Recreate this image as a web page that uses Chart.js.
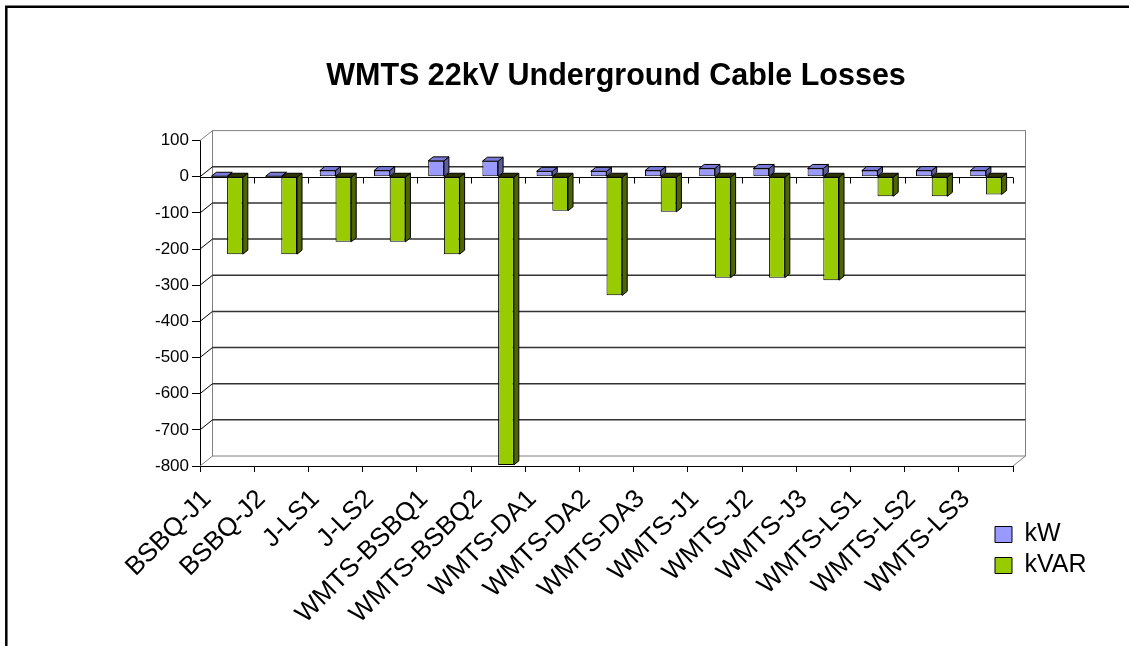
<!DOCTYPE html>
<html lang="en">
<head>
<meta charset="UTF-8">
<title>WMTS 22kV Underground Cable Losses</title>
<script src="https://cdn.jsdelivr.net/npm/chart.js"></script>
<style>
  html, body { margin: 0; padding: 0; background: #fff; overflow: hidden; }
</style>
</head>
<body>
<canvas id="lossChart" width="1129" height="646"></canvas>
<script>
// cable sections and their losses
const cables = [
  "BSBQ-J1", "BSBQ-J2", "J-LS1", "J-LS2", "WMTS-BSBQ1", "WMTS-BSBQ2",
  "WMTS-DA1", "WMTS-DA2", "WMTS-DA3", "WMTS-J1", "WMTS-J2", "WMTS-J3",
  "WMTS-LS1", "WMTS-LS2", "WMTS-LS3"
];
const kwLoss   = [1, 1, 17, 17, 44, 43, 15, 15, 17, 23, 23, 23, 17, 17, 17];
const kvarLoss = [-214, -214, -180, -180, -214, -797, -94, -328, -97, -279, -279, -286, -54, -54, -49];
const yMin = -800, yMax = 100, yStep = 100;

Chart.defaults.font.family = "'Liberation Sans', Arial, sans-serif";
Chart.defaults.color = "#000";

// 3D look: wall depth and bar depth
const WX = 12.5, WY = -10;
const BX = 5, BY = -4;

const faceColors = [
  { top: "#7b7bd6", side: "#5c5c99" },   // kW
  { top: "#2e3300", side: "#4d6600" }    // kVAR
];

const excel3d = {
  id: "excel3d",
  beforeDraw(chart) {
    const ctx = chart.ctx;
    ctx.save();
    ctx.strokeStyle = "#000";
    ctx.lineWidth = 2.5;
    ctx.beginPath();
    ctx.moveTo(6.3, 700);
    ctx.lineTo(6.3, 6.7);
    ctx.lineTo(1200, 6.7);
    ctx.stroke();
    ctx.restore();
  },
  afterLayout(chart) {
    // title centred over the 3D plot, legend moved to bottom right
    if (chart.titleBlock) {
      chart.titleBlock.left = 207;
      chart.titleBlock.right = 1025;
    }
    const lg = chart.legend;
    if (lg) {
      const w = lg.width, h = lg.height;
      lg.left = 989; lg.right = 989 + w;
      lg.top = 516; lg.bottom = 516 + h;
    }
  },
  beforeDatasetsDraw(chart) {
    const { ctx, chartArea: a, scales: { y } } = chart;
    ctx.save();
    ctx.lineWidth = 1;
    // back wall outline
    ctx.strokeStyle = "#808080";
    ctx.strokeRect(a.left + WX, a.top + WY, a.right - a.left, a.bottom - a.top);
    // floor / side wall edges
    ctx.beginPath();
    ctx.moveTo(a.left, a.bottom); ctx.lineTo(a.left + WX, a.bottom + WY);
    ctx.moveTo(a.right, a.bottom); ctx.lineTo(a.right + WX, a.bottom + WY);
    ctx.moveTo(a.left, a.top); ctx.lineTo(a.left + WX, a.top + WY);
    ctx.stroke();
    // gridlines on back wall + side wall
    y.ticks.forEach(t => {
      if (t.value === yMax || t.value === yMin) return;
      const py = y.getPixelForValue(t.value);
      ctx.strokeStyle = "#333";
      ctx.lineWidth = 1.5;
      ctx.beginPath();
      ctx.moveTo(a.left + WX, py + WY);
      ctx.lineTo(a.right + WX, py + WY);
      ctx.stroke();
      ctx.strokeStyle = "#000";
      ctx.lineWidth = 1;
      ctx.beginPath();
      ctx.moveTo(a.left, py);
      ctx.lineTo(a.left + WX, py + WY);
      ctx.stroke();
    });
    // category axis at zero with its tick marks
    const y0 = Math.round(y.getPixelForValue(0)) + 0.5;
    ctx.strokeStyle = "#000";
    ctx.lineWidth = 1;
    ctx.beginPath();
    ctx.moveTo(a.left, y0);
    ctx.lineTo(a.right, y0);
    const step = (a.right - a.left) / cables.length;
    for (let i = 0; i <= cables.length; i++) {
      const px = Math.round(a.left + i * step) + 0.5;
      ctx.moveTo(px, y0);
      ctx.lineTo(px, y0 + 6);
    }
    ctx.stroke();
    ctx.restore();
  },
  afterDatasetsDraw(chart) {
    // top and side faces, kW first so kVAR tops sit over them
    const ctx = chart.ctx;
    ctx.save();
    ctx.lineWidth = 1;
    ctx.strokeStyle = "#000";
    chart.data.datasets.forEach((ds, i) => {
      const fc = faceColors[i];
      chart.getDatasetMeta(i).data.forEach(bar => {
        const { x, y, base, width } = bar.getProps(["x", "y", "base", "width"], true);
        const l = x - width / 2, r = x + width / 2;
        const top = Math.min(y, base), bot = Math.max(y, base);
        ctx.fillStyle = fc.side;
        ctx.beginPath();
        ctx.moveTo(r, top);
        ctx.lineTo(r + BX, top + BY);
        ctx.lineTo(r + BX, bot + BY);
        ctx.lineTo(r, bot);
        ctx.closePath();
        ctx.fill();
        ctx.stroke();
        ctx.fillStyle = fc.top;
        ctx.beginPath();
        ctx.moveTo(l, top);
        ctx.lineTo(l + BX, top + BY);
        ctx.lineTo(r + BX, top + BY);
        ctx.lineTo(r, top);
        ctx.closePath();
        ctx.fill();
        ctx.stroke();
      });
    });
    ctx.restore();
  }
};

new Chart(document.getElementById("lossChart"), {
  type: "bar",
  data: {
    labels: cables,
    datasets: [
      {
        label: "kW",
        data: kwLoss,
        backgroundColor: "#9999ff",
        borderColor: "#000",
        borderWidth: 1,
        borderSkipped: false
      },
      {
        label: "kVAR",
        data: kvarLoss,
        backgroundColor: "#99cc00",
        borderColor: "#000",
        borderWidth: 1,
        borderSkipped: false
      }
    ]
  },
  options: {
    responsive: false,
    animation: false,
    datasets: {
      bar: { categoryPercentage: 0.58, barPercentage: 1.0 }
    },
    layout: { padding: { left: 0, right: 16, top: 0, bottom: 0 } },
    scales: {
      x: {
        grid: { drawOnChartArea: false, drawTicks: true, tickLength: 6, color: "#000", offset: true },
        border: { display: true, color: "#000", width: 1 },
        ticks: {
          autoSkip: false,
          maxRotation: 45,
          minRotation: 45,
          padding: 12,
          labelOffset: -20,
          font: { size: 26 }
        },
        afterFit(scale) { scale.height = 180; }
      },
      y: {
        min: yMin,
        max: yMax,
        grid: { drawOnChartArea: false, drawTicks: true, tickLength: 8, color: "#000" },
        border: { display: true, color: "#000", width: 1 },
        ticks: { stepSize: yStep, padding: 3, font: { size: 17 } },
        afterFit(scale) { scale.width = 200; }
      }
    },
    plugins: {
      title: {
        display: true,
        text: "WMTS 22kV Underground Cable Losses",
        font: { size: 30.5, weight: "bold" },
        color: "#000",
        padding: { top: 58.5, bottom: 45.5 }
      },
      legend: {
        position: "right",
        fullSize: false,
        align: "start",
        maxWidth: 100,
        labels: {
          boxWidth: 17,
          boxHeight: 16,
          padding: 6,
          font: { size: 25 },
          color: "#000"
        }
      },
      tooltip: { enabled: false }
    }
  },
  plugins: [excel3d]
});
</script>
</body>
</html>
